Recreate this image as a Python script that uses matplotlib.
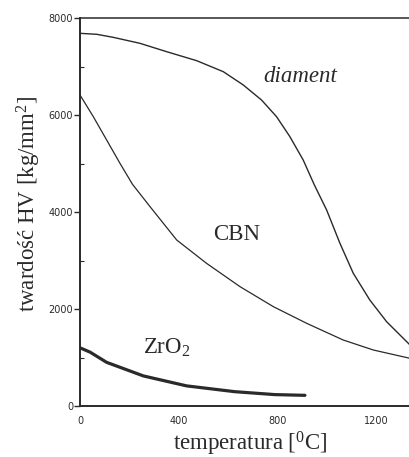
import matplotlib
matplotlib.use("Agg")
import matplotlib.pyplot as plt

# ---- data ----
diament_T = [0, 68, 135, 243, 351, 473, 581, 662, 736, 797, 851, 905, 950, 1000, 1054, 1108, 1175, 1243, 1338]
diament_H = [7684, 7664, 7601, 7478, 7306, 7120, 6893, 6619, 6309, 5965, 5553, 5072, 4560, 4041, 3354, 2736, 2186, 1739, 1258]

cbn_T = [0, 54, 108, 162, 213, 284, 392, 513, 649, 784, 919, 1067, 1189, 1338]
cbn_H = [6412, 5965, 5485, 5004, 4570, 4110, 3423, 2942, 2460, 2048, 1705, 1361, 1155, 983]

zro2_T = [0, 41, 108, 257, 432, 628, 790, 912]
zro2_H = [1200, 1110, 900, 620, 415, 295, 235, 220]

y_ticks = [0, 2000, 4000, 6000, 8000]
y_ticklabels = ["0", "2000", "4000", "6000", "8000"]
y_minor = [1000, 3000, 5000, 7000]
x_ticks = [0, 400, 800, 1200]
x_ticklabels = ["0", "400", "800", "1200"]

labels = ["diament", "CBN", "ZrO$_2$"]
label_T = [894, 635, 350]
label_H = [6687, 3423, 1087]

# ---- styling ----
plt.rcParams["mathtext.fontset"] = "custom"
plt.rcParams["mathtext.rm"] = "Liberation Serif"
plt.rcParams["mathtext.it"] = "Liberation Serif:italic"
serif = "Liberation Serif"
ink = "#2a2a2a"

fig = plt.figure(figsize=(4.1, 4.57), dpi=100)
fig.patch.set_facecolor("white")
ax = fig.add_axes([80 / 410, 51 / 457, 330 / 410, 388 / 457])

ax.plot(diament_T, diament_H, color=ink, lw=1.0, solid_capstyle="round")
ax.plot(cbn_T, cbn_H, color=ink, lw=0.9, solid_capstyle="round")
ax.plot(zro2_T, zro2_H, color=ink, lw=2.3, solid_capstyle="round")

ax.set_xlim(0, 1338)
ax.set_ylim(0, 8000)

ax.spines["right"].set_visible(False)
for s in ["left", "bottom"]:
    ax.spines[s].set_linewidth(1.4)
    ax.spines[s].set_color(ink)
ax.spines["top"].set_linewidth(1.1)
ax.spines["top"].set_color(ink)

ax.set_yticks(y_ticks)
ax.set_yticklabels(y_ticklabels, fontsize=7, family="DejaVu Sans", color=ink)
ax.set_yticks(y_minor, minor=True)
ax.tick_params(axis="y", which="major", direction="out", length=4, width=1, pad=1, color=ink)
ax.tick_params(axis="y", which="minor", direction="in", length=3, width=0.8, color=ink)

ax.set_xticks(x_ticks)
ax.set_xticklabels(x_ticklabels, fontsize=7, family="DejaVu Sans", color=ink)
ax.tick_params(axis="x", which="both", length=0, pad=7)

ax.set_xlabel("temperatura [$^{\\mathrm{0}}$C]", fontsize=16.5, family=serif, color=ink)
ax.xaxis.set_label_coords(0.515, -0.098)
ax.xaxis.label.set_va("center")

ax.set_ylabel("twardość HV [kg/mm$^{\\mathrm{2}}$]", fontsize=16.5, family=serif, color=ink)
ax.yaxis.set_label_coords(-0.155, 0.52)
ax.yaxis.label.set_va("center")

for txt, t, h in zip(labels, label_T, label_H):
    style = "italic" if txt == "diament" else "normal"
    ax.text(t, h, txt, fontsize=16.5, family=serif,
            style=style, color=ink, ha="center", va="baseline")

fig.savefig("out.png", dpi=100, facecolor="white")
